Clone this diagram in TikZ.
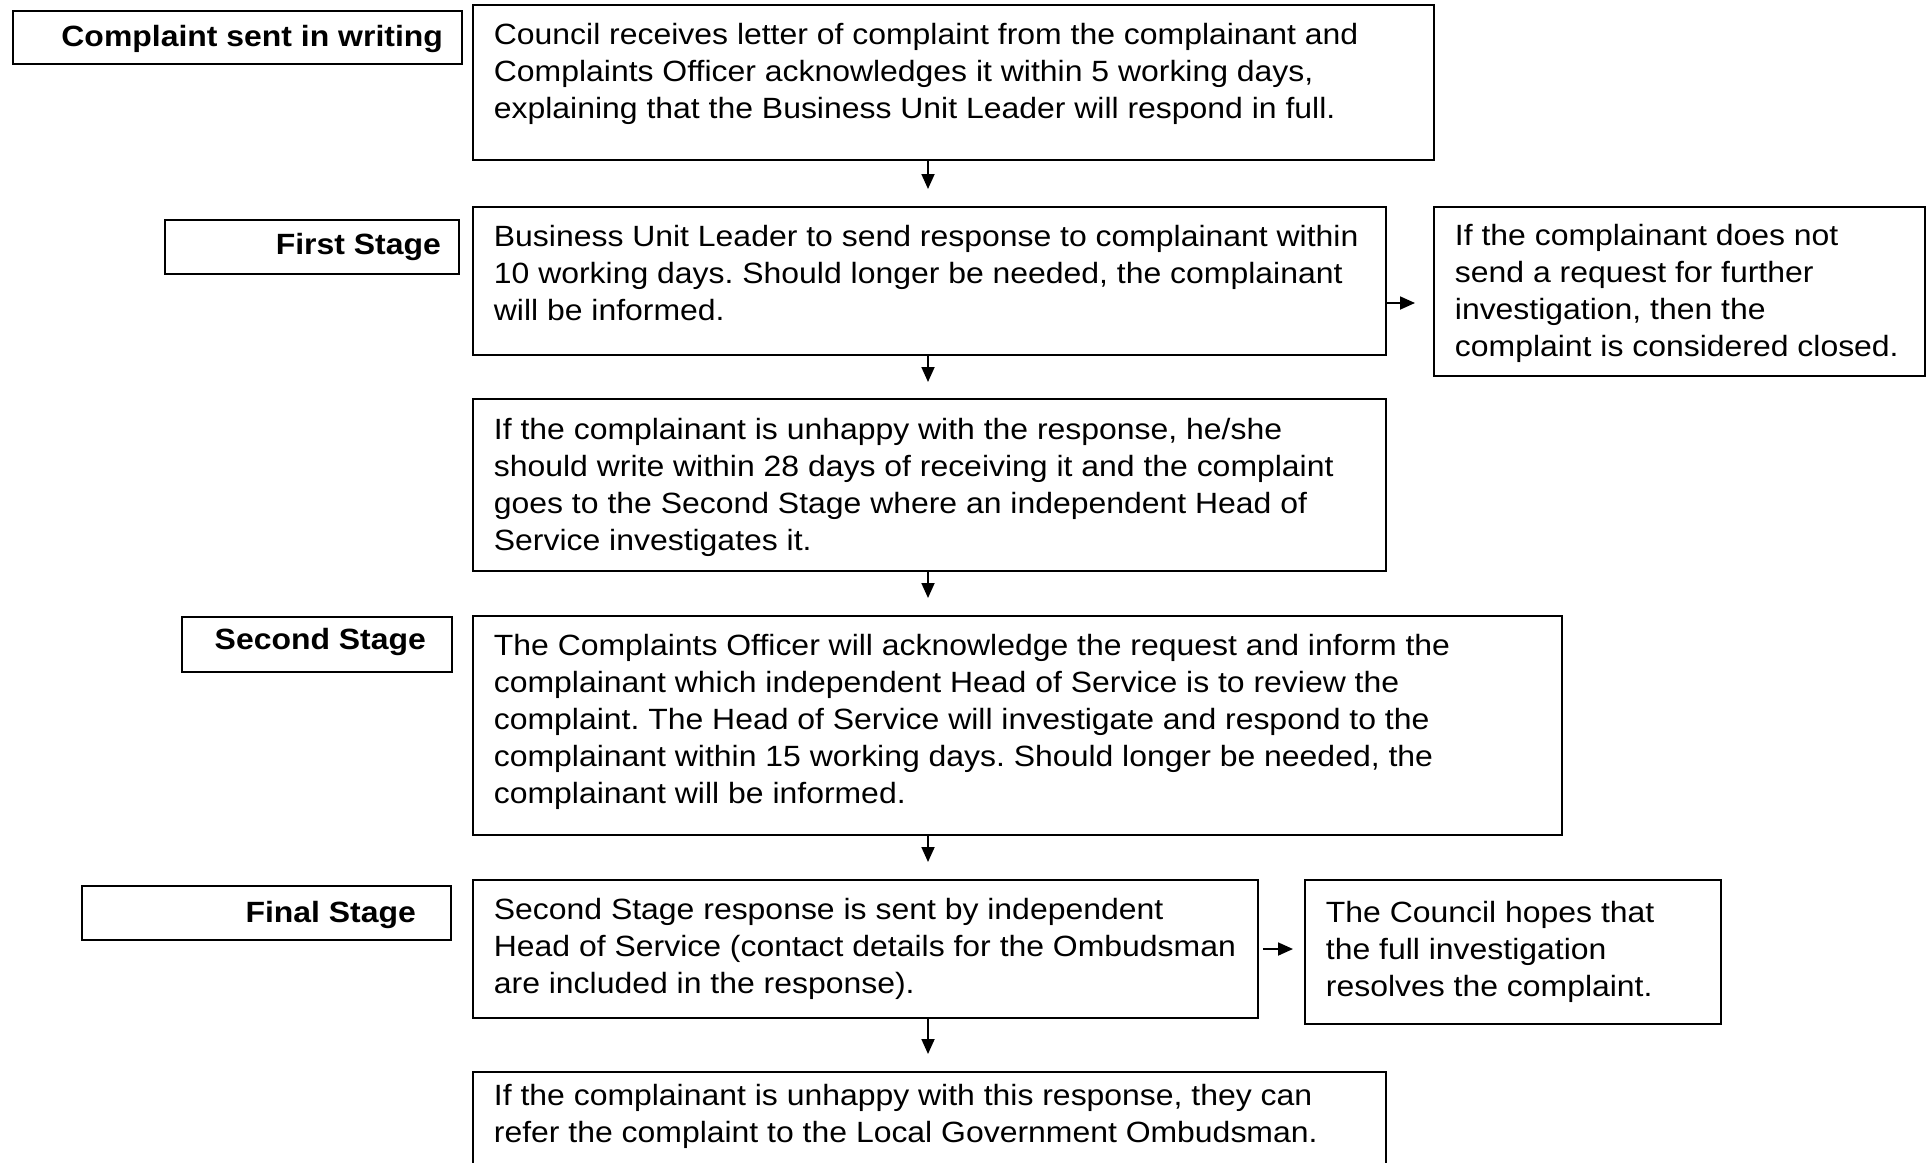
\documentclass[tikz,border=0pt]{standalone}
\usepackage{fontspec}
\setmainfont{Liberation Sans}[FakeStretch=1.09]
\usetikzlibrary{arrows.meta}
\frenchspacing
\newcommand\mybox[4]{\begin{minipage}[t][#2][t]{#1}\fontsize{29.3}{37}\selectfont\frenchspacing\leftskip=21pt\rightskip=-300pt plus 1fil\parfillskip=0pt plus 1fil\rule{0pt}{#3}#4\end{minipage}}
\newcommand\mylabel[5]{\begin{minipage}[t][#2][t]{#1}\fontsize{29.3}{37}\selectfont\bfseries\leftskip=0pt plus 1fil\rightskip=#4\parfillskip=0pt\rule{0pt}{#3}#5\end{minipage}}
\tikzset{
  bx/.style={draw, line width=1.8pt, inner sep=0pt, anchor=north west},
  arr/.style={line width=1.8pt, -{Triangle[length=15pt,width=13pt]}}
}
\begin{document}
\begin{tikzpicture}[x=1pt,y=-1pt]
\useasboundingbox (0,0) rectangle (1926,1162);
% stage labels
\node[bx] (l1) at (12,10) {\mylabel{449pt}{53pt}{36pt}{19pt}{Complaint sent in writing}};
\node[bx] (l2) at (164,219) {\mylabel{294pt}{54pt}{35pt}{18pt}{First Stage}};
\node[bx] (l3) at (181,616) {\mylabel{270pt}{55pt}{33pt}{26pt}{Second Stage}};
\node[bx] (l4) at (81,885) {\mylabel{369pt}{54pt}{37pt}{35pt}{Final Stage}};
% main boxes
\node[bx] (b1) at (472,4) {\mybox{961pt}{155pt}{40pt}{Council receives letter of complaint from the complainant and\\Complaints Officer acknowledges it within 5 working days,\\explaining that the Business Unit Leader will respond in full.}};
\node[bx] (b2) at (472,206) {\mybox{913pt}{148pt}{40pt}{Business Unit Leader to send response to complainant within\\10 working days. Should longer be needed, the complainant\\will be informed.}};
\node[bx] (r1) at (1433,206) {\mybox{491pt}{169pt}{39pt}{If the complainant does not\\send a request for further\\investigation, then the\\complaint is considered closed.}};
\node[bx] (b3) at (472,398) {\mybox{913pt}{172pt}{41pt}{If the complainant is unhappy with the response, he/she\\should write within 28 days of receiving it and the complaint\\goes to the Second Stage where an independent Head of\\Service investigates it.}};
\node[bx] (b4) at (472,615) {\mybox{1089pt}{219pt}{40pt}{The Complaints Officer will acknowledge the request and inform the\\complainant which independent Head of Service is to review the\\complaint. The Head of Service will investigate and respond to the\\complainant within 15 working days. Should longer be needed, the\\complainant will be informed.}};
\node[bx] (b5) at (472,879) {\mybox{785pt}{138pt}{40pt}{Second Stage response is sent by independent\\Head of Service (contact details for the Ombudsman\\are included in the response).}};
\node[bx] (r2) at (1304,879) {\mybox{416pt}{144pt}{43pt}{The Council hopes that\\the full investigation\\resolves the complaint.}};
\node[bx] (b6) at (472,1071) {\mybox{913pt}{100pt}{34pt}{If the complainant is unhappy with this response, they can\\refer the complaint to the Local Government Ombudsman.}};
% connectors
\coordinate (col) at (928,0);
\draw[arr, shorten >=17pt] (b1.south -| col) -- (b2.north -| col);
\draw[arr, shorten >=16pt] (b2.south -| col) -- (b3.north -| col);
\draw[arr, shorten >=17pt] (b3.south -| col) -- (b4.north -| col);
\draw[arr, shorten >=17pt] (b4.south -| col) -- (b5.north -| col);
\draw[arr, shorten >=17pt] (b5.south -| col) -- (b6.north -| col);
\coordinate (r1y) at (0,303);
\draw[arr, shorten >=18pt] (b2.east |- r1y) -- (r1.west |- r1y);
\coordinate (r2y) at (0,949);
\draw[arr, shorten <=4pt, shorten >=11pt] (b5.east |- r2y) -- (r2.west |- r2y);
\end{tikzpicture}
\end{document}
